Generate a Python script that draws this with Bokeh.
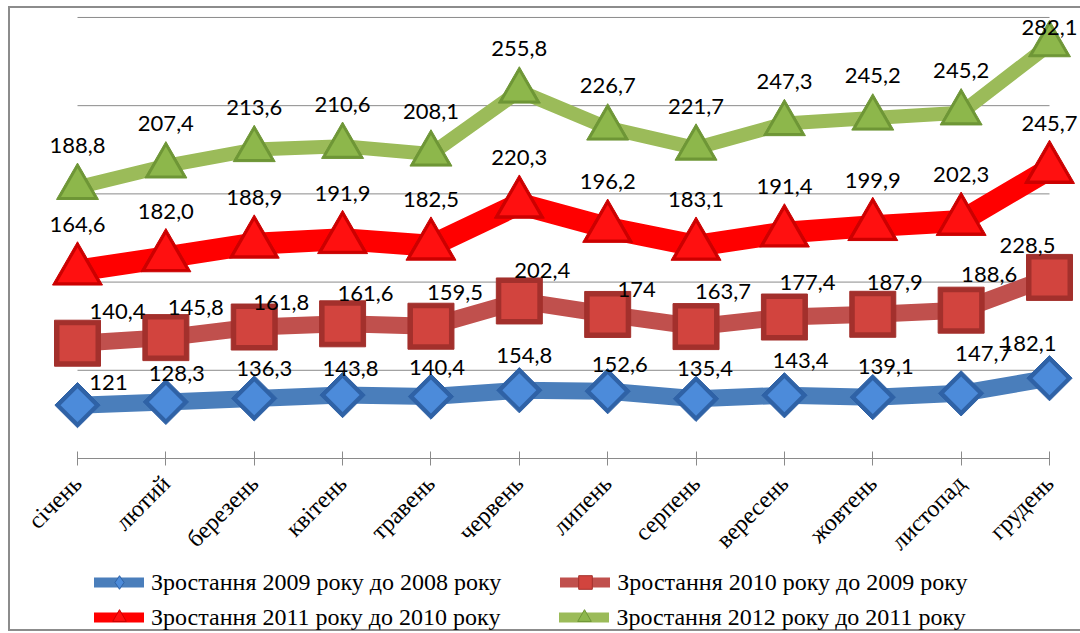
import math
import numpy as np
from bokeh.plotting import figure
from bokeh.layouts import column
from bokeh.models import Range1d, FixedTicker, Legend, LegendItem, ColumnDataSource
from bokeh.embed import file_html
from bokeh.resources import INLINE
from bokeh.core.properties import value

# ---------------- data ----------------
months = ["січень", "лютий", "березень", "квітень", "травень", "червень",
          "липень", "серпень", "вересень", "жовтень", "листопад", "грудень"]

g2009 = [121, 128.3, 136.3, 143.8, 140.4, 154.8, 152.6, 135.4, 143.4, 139.1, 147.7, 182.1]
g2010 = [140.4, 145.8, 161.8, 161.6, 159.5, 202.4, 174, 163.7, 177.4, 187.9, 188.6, 228.5]
g2011 = [164.6, 182.0, 188.9, 191.9, 182.5, 220.3, 196.2, 183.1, 191.4, 199.9, 202.3, 245.7]
g2012 = [188.8, 207.4, 213.6, 210.6, 208.1, 255.8, 226.7, 221.7, 247.3, 245.2, 245.2, 282.1]

series_names = ["Зростання 2009 року до 2008 року",
                "Зростання 2010 року до 2009 року",
                "Зростання 2011 року до 2010 року",
                "Зростання 2012 року до 2011 року"]

grid_values = [200, 400, 600, 800, 1000]

# label offsets (screen px) — layout only
blue_dx = [31, 11, 10, 8, 6, 5, 12, 9, 16, 13, 22, -21]
blue_dy = [-23, -28, -30, -27, -29, -35, -27, -30, -35, -31, -40, -35]
dred_dx = [40, 30, 27, 23, 24, 23, 29, 27, 23, 22, 28, -22]
dred_dy = [-32, -30, -25, -30, -34, -30, -25, -35, -35, -32, -36, -32]
red_dx = [0] * 12
red_dy = [-46] * 12
green_dx = [0] * 12
green_dy = [-42] * 11 + [-17]


def fmt(v):
    if isinstance(v, int):
        return str(v)
    return f"{v:.1f}".replace(".", ",")


x = list(range(len(months)))
stack = np.cumsum(np.array([g2009, g2010, g2011, g2012], dtype=float), axis=0)

BORDER = "#8c8c8c"
LINE_IMG = f"linear-gradient({BORDER},{BORDER})"

# ---------------- chart figure ----------------
PX_X = 972 / 11.0
x0 = -(77 - 11) / PX_X
x1 = x0 + 1069 / PX_X
y1 = 451 / 0.443

p = figure(width=1080, height=566, x_range=Range1d(x0, x1), y_range=Range1d(0, y1),
           output_backend="svg", toolbar_location=None, y_axis_location=None,
           min_border_left=11, min_border_right=0, min_border_top=9, min_border_bottom=106)
p.grid.visible = False
p.outline_line_color = None
p.background_fill_color = None
p.border_fill_color = None
p.styles = {"background": f"{LINE_IMG} 8px 6px / 2px calc(100% - 6px) no-repeat, "
                          f"{LINE_IMG} 8px 6px / calc(100% - 8px) 2px no-repeat"}

# grid lines spanning first..last category
p.segment(x0=[0] * len(grid_values), x1=[11] * len(grid_values), y0=grid_values, y1=grid_values,
          line_color="#8a8a8a", line_width=1)

ax = p.xaxis[0]
ax.ticker = FixedTicker(ticks=x)
ax.major_label_overrides = {i: m for i, m in enumerate(months)}
ax.bounds = (0, 11)
ax.axis_line_color = "#8a8a8a"
ax.major_tick_line_color = "#8a8a8a"
ax.major_tick_in = 7
ax.major_tick_out = 7
ax.minor_tick_line_color = None
ax.major_label_orientation = math.pi / 4
ax.major_label_text_font = "Liberation Serif"
ax.major_label_text_font_size = "24px"
ax.major_label_text_color = "#000000"
ax.major_label_standoff = 14

styles = [
    dict(line="#4A7EBB", lw=17, marker="square", angle=math.pi / 4, size=32,
         outer="#2F62A6", inner="#4C8BDA", isize=24, lmarker="diamond", lsize=26),
    dict(line="#C0504D", lw=17, marker="square", angle=0, size=46,
         outer="#A3302C", inner="#D2443E", isize=36, lmarker="square", lsize=20),
    dict(line="#FF0000", lw=22, marker="triangle", angle=0, size=50,
         outer="#CC0000", inner="#FF1010", isize=40, lmarker="triangle", lsize=24),
    dict(line="#9BBB59", lw=14, marker="triangle", angle=0, size=42,
         outer="#6E9636", inner="#8DB74B", isize=33, lmarker="triangle", lsize=22),
]

for k, st in enumerate(styles):
    src = ColumnDataSource(dict(x=x, y=stack[k]))
    p.line("x", "y", source=src, line_color=st["line"], line_width=st["lw"], line_join="round")
    p.scatter("x", "y", source=src, marker=st["marker"], angle=st["angle"], size=st["size"],
              fill_color=st["outer"], line_color=st["outer"], line_width=1)
    p.scatter("x", "y", source=src, marker=st["marker"], angle=st["angle"], size=st["isize"],
              fill_color=st["inner"], line_color=None)

# data labels
raw = [g2009, g2010, g2011, g2012]
dxs = [blue_dx, dred_dx, red_dx, green_dx]
dys = [blue_dy, dred_dy, red_dy, green_dy]
for k in range(4):
    src = ColumnDataSource(dict(x=x, y=stack[k], t=[fmt(v) for v in raw[k]], dx=dxs[k], dy=dys[k]))
    p.text("x", "y", text="t", source=src, x_offset="dx", y_offset="dy",
           text_align="center", text_baseline="middle", text_font=value("Lato"),
           text_font_size="22px", text_color="#000000")

# ---------------- legend figure ----------------
lf = figure(width=1080, height=67, x_range=Range1d(0, 1), y_range=Range1d(0, 1),
            output_backend="svg", toolbar_location=None, x_axis_location=None,
            y_axis_location=None, min_border=0)
lf.grid.visible = False
lf.outline_line_color = None
lf.background_fill_color = None
lf.border_fill_color = None
lf.styles = {"background": f"{LINE_IMG} 8px 0 / 2px calc(100% - 2px) no-repeat, "
                           f"{LINE_IMG} 8px calc(100% - 2px) / calc(100% - 8px) 2px no-repeat"}

nan = float("nan")
items = []
for k, st in enumerate(styles):
    lr = lf.line(x=[nan], y=[nan], line_color=st["line"], line_width=10, line_cap="round")
    mr = lf.scatter(x=[nan], y=[nan], marker=st["lmarker"], size=st["lsize"],
                    fill_color=st["inner"], line_color=st["outer"], line_width=1)
    items.append(LegendItem(label=series_names[k], renderers=[lr, mr]))


def make_legend(its, loc):
    return Legend(items=its, location=loc, orientation="horizontal",
                  margin=0, padding=0, spacing=59, glyph_width=50, glyph_height=34,
                  label_height=34, label_standoff=7, label_text_font="Liberation Serif",
                  label_text_font_size="24px", label_text_color="#000000",
                  background_fill_alpha=0, border_line_color=None)


lf.add_layout(make_legend([items[0], items[1]], (83, 34)))
lf.add_layout(make_legend([items[2], items[3]], (83, -1)))

layout = column(p, lf, spacing=0)
open("out.html", "w").write(file_html(layout, INLINE))
